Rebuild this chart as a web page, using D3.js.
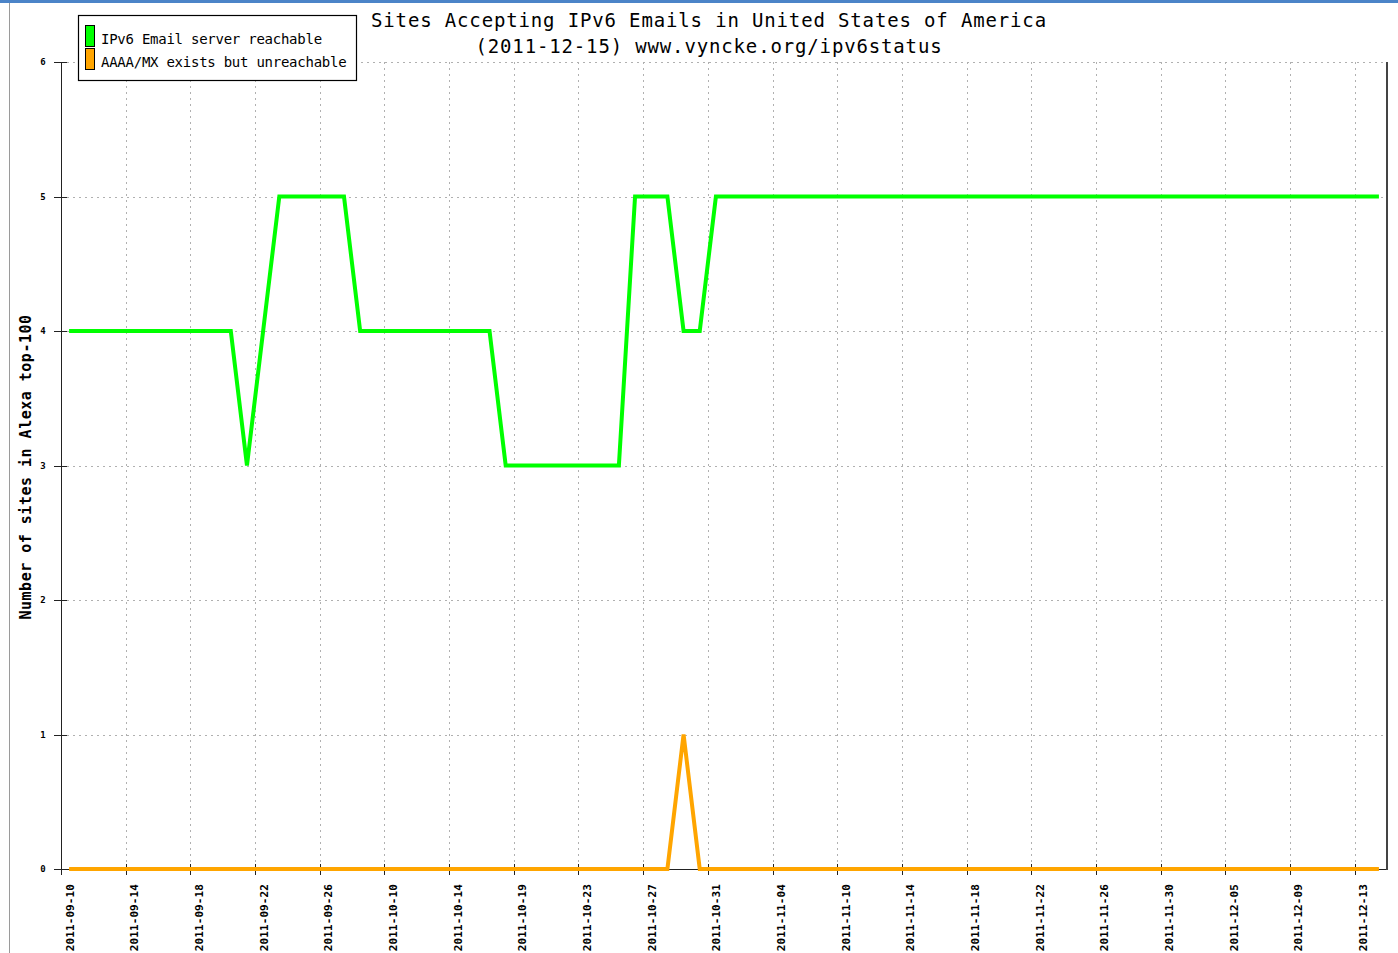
<!DOCTYPE html>
<html>
<head>
<meta charset="utf-8">
<script src="https://cdn.jsdelivr.net/npm/d3@7"></script>
<style>
    body { margin: 0; background: #fff; }
    svg { display: block; }
    text { font-family: "DejaVu Sans Mono", "Liberation Mono", monospace; fill: #000; }
</style>
</head>
<body>
<svg id="chart" width="1398" height="953"></svg>
<script>
// labels shown under every 4th point of the (text) x axis
const tickLabels = [
    "2011-09-10", "2011-09-14", "2011-09-18", "2011-09-22", "2011-09-26",
    "2011-10-10", "2011-10-14", "2011-10-19", "2011-10-23", "2011-10-27",
    "2011-10-31", "2011-11-04", "2011-11-10", "2011-11-14", "2011-11-18",
    "2011-11-22", "2011-11-26", "2011-11-30", "2011-12-05", "2011-12-09",
    "2011-12-13"
];
const TICK_EVERY = 4;

// IPv6 Email server reachable
const reachable = [
    4, 4, 4, 4, 4, 4, 4, 4, 4, 4, 4, 3, 4, 5, 5, 5, 5, 5, 4, 4,
    4, 4, 4, 4, 4, 4, 4, 3, 3, 3, 3, 3, 3, 3, 3, 5, 5, 5, 4, 4,
    5, 5, 5, 5, 5, 5, 5, 5, 5, 5, 5, 5, 5, 5, 5, 5, 5, 5, 5, 5,
    5, 5, 5, 5, 5, 5, 5, 5, 5, 5, 5, 5, 5, 5, 5, 5, 5, 5, 5, 5,
    5, 5
];
// AAAA/MX exists but unreachable
const unreachable = [
    0, 0, 0, 0, 0, 0, 0, 0, 0, 0, 0, 0, 0, 0, 0, 0, 0, 0, 0, 0,
    0, 0, 0, 0, 0, 0, 0, 0, 0, 0, 0, 0, 0, 0, 0, 0, 0, 0, 1, 0,
    0, 0, 0, 0, 0, 0, 0, 0, 0, 0, 0, 0, 0, 0, 0, 0, 0, 0, 0, 0,
    0, 0, 0, 0, 0, 0, 0, 0, 0, 0, 0, 0, 0, 0, 0, 0, 0, 0, 0, 0,
    0, 0
];
const yTicks = [0, 1, 2, 3, 4, 5, 6];

const series = [
    {name: "IPv6 Email server reachable", values: reachable, color: "#00ff00"},
    {name: "AAAA/MX exists but unreachable", values: unreachable, color: "#ffa500"}
];

const PLOT = {left: 61, right: 1387, top: 62, bottom: 869};

const svg = d3.select("#chart");

// window frame bits from the screenshot
svg.append("rect").attr("x", 0).attr("y", 0).attr("width", 1398).attr("height", 3).attr("fill", "#4b84c8");
svg.append("line").attr("x1", 9.5).attr("x2", 9.5).attr("y1", 3).attr("y2", 953)
    .attr("stroke", "#9a9a9a").attr("stroke-width", 1);

const x = d3.scaleBand()
    .domain(d3.range(reachable.length))
    .range([PLOT.left, PLOT.right])
    .paddingInner(0).paddingOuter(0);
const y = d3.scaleLinear().domain([0, 6]).range([PLOT.bottom, PLOT.top]);

const cx = i => x(i) + x.bandwidth() / 2;

// grid
const grid = svg.append("g")
    .attr("stroke", "#b0b0b0")
    .attr("stroke-width", 1)
    .attr("stroke-dasharray", "2,4");

grid.selectAll("line.h")
    .data(yTicks.filter(d => d > 0))
    .join("line")
    .attr("class", "h")
    .attr("x1", PLOT.left).attr("x2", PLOT.right)
    .attr("y1", d => Math.round(y(d)) + 0.5).attr("y2", d => Math.round(y(d)) + 0.5);

const tickIdx = tickLabels.map((_, k) => k * TICK_EVERY);

grid.selectAll("line.v")
    .data(tickIdx.filter(i => i > 0))
    .join("line")
    .attr("class", "v")
    .attr("x1", i => Math.round(x(i)) + 0.5).attr("x2", i => Math.round(x(i)) + 0.5)
    .attr("y1", PLOT.top).attr("y2", PLOT.bottom);

// axes
const axes = svg.append("g").attr("stroke", "#222").attr("stroke-width", 1);
axes.append("line")
    .attr("x1", PLOT.left + 0.5).attr("x2", PLOT.left + 0.5)
    .attr("y1", PLOT.top).attr("y2", PLOT.bottom + 1);
axes.append("line")
    .attr("x1", PLOT.left).attr("x2", PLOT.right)
    .attr("y1", PLOT.bottom + 0.5).attr("y2", PLOT.bottom + 0.5);
axes.append("line")
    .attr("stroke", "#444").attr("stroke-width", 2)
    .attr("x1", PLOT.right).attr("x2", PLOT.right)
    .attr("y1", PLOT.top).attr("y2", PLOT.bottom + 1);

axes.selectAll("line.yt")
    .data(yTicks)
    .join("line")
    .attr("class", "yt")
    .attr("x1", PLOT.left - 7).attr("x2", PLOT.left + 6)
    .attr("y1", d => Math.round(y(d)) + 0.5).attr("y2", d => Math.round(y(d)) + 0.5);

axes.selectAll("line.xt")
    .data(tickIdx)
    .join("line")
    .attr("class", "xt")
    .attr("x1", i => Math.round(x(i)) + 0.5).attr("x2", i => Math.round(x(i)) + 0.5)
    .attr("y1", PLOT.bottom - 5).attr("y2", PLOT.bottom + 6);

svg.append("g").selectAll("text")
    .data(yTicks)
    .join("text")
    .attr("x", 43)
    .attr("y", d => y(d))
    .attr("dy", "0.35em")
    .attr("text-anchor", "middle")
    .attr("font-size", 9)
    .attr("font-weight", "bold")
    .text(d => d);

svg.append("g").selectAll("text")
    .data(tickIdx)
    .join("text")
    .attr("transform", (i, k) => `translate(${x(i) + 12.5},${PLOT.bottom + 15}) rotate(-90)`)
    .attr("text-anchor", "end")
    .attr("font-size", 11)
    .attr("font-weight", "bold")
    .attr("letter-spacing", 0.1)
    .text((i, k) => tickLabels[k]);

// data lines (orange drawn last, over the x axis)
const line = d3.line()
    .x((d, i) => cx(i))
    .y(d => y(d));

svg.append("g").selectAll("path")
    .data(series)
    .join("path")
    .attr("fill", "none")
    .attr("stroke", d => d.color)
    .attr("stroke-width", 4)
    .attr("stroke-linejoin", "miter")
    .attr("d", d => line(d.values));

// title
svg.append("text")
    .attr("x", 709).attr("y", 27)
    .attr("text-anchor", "middle")
    .attr("font-size", 19)
    .attr("letter-spacing", 0.85)
    .text("Sites Accepting IPv6 Emails in United States of America");
svg.append("text")
    .attr("x", 709).attr("y", 53)
    .attr("text-anchor", "middle")
    .attr("font-size", 19)
    .attr("letter-spacing", 0.85)
    .text("(2011-12-15) www.vyncke.org/ipv6status");

// y title
svg.append("text")
    .attr("transform", "translate(31,467) rotate(-90)")
    .attr("text-anchor", "middle")
    .attr("font-size", 15)
    .attr("font-weight", "bold")
    .attr("letter-spacing", 0.5)
    .text("Number of sites in Alexa top-100");

// legend
const legend = svg.append("g");
legend.append("rect")
    .attr("x", 78.5).attr("y", 15.5).attr("width", 278).attr("height", 65)
    .attr("fill", "#fff").attr("stroke", "#000").attr("stroke-width", 1.2);

const item = legend.selectAll("g.item")
    .data(series)
    .join("g")
    .attr("class", "item")
    .attr("transform", (d, i) => `translate(0,${i * 23})`);

item.append("rect")
    .attr("x", 85.5).attr("y", 25.5).attr("width", 9).attr("height", 21)
    .attr("fill", d => d.color).attr("stroke", "#000").attr("stroke-width", 1);

item.append("text")
    .attr("x", 101).attr("y", 44)
    .attr("font-size", 14)
    .attr("letter-spacing", -0.25)
    .text(d => d.name);
</script>
</body>
</html>
